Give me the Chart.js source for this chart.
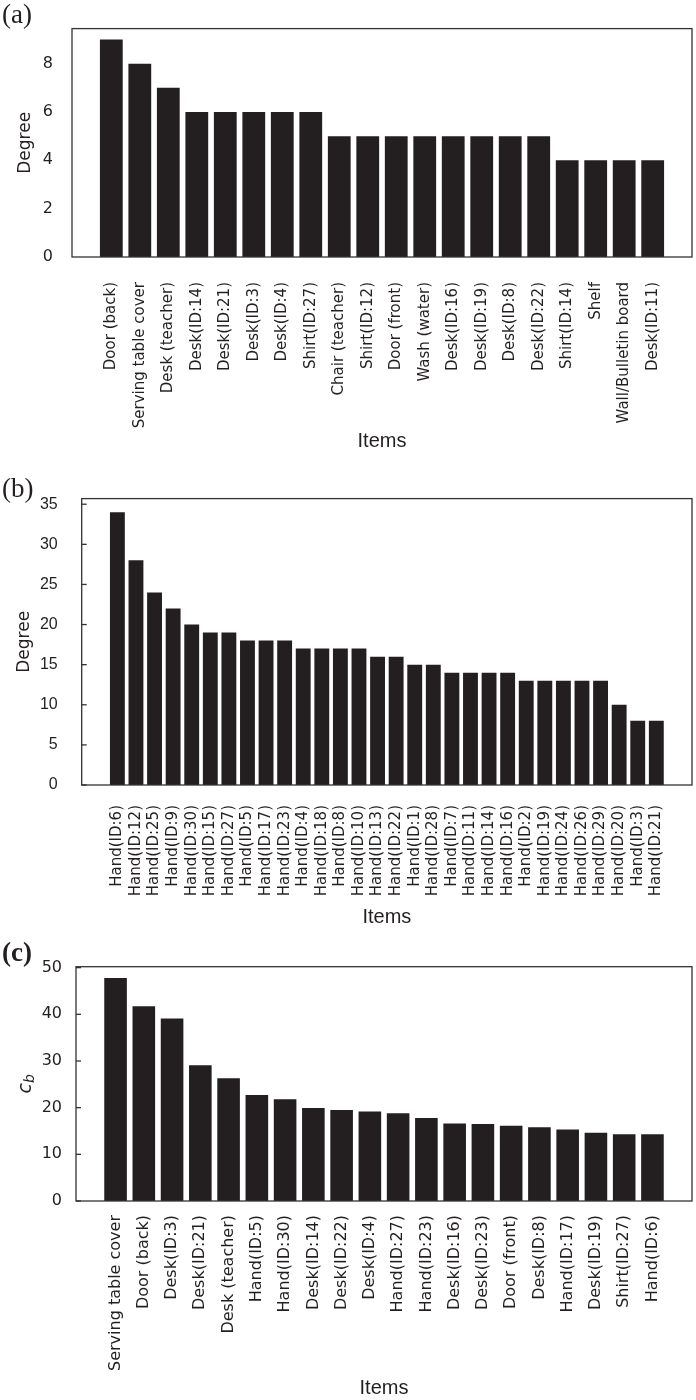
<!DOCTYPE html>
<html lang="en">
<head>
<meta charset="UTF-8">
<title>Item degree and betweenness</title>
<script src="https://cdn.jsdelivr.net/npm/chart.js"></script>
<style>
  body { margin: 0; background: #fff; }
  .page { position: relative; width: 696px; height: 1400px; }
  .panel { position: absolute; left: 0; width: 696px; }
  .panel canvas { display: block; }
  .tag { position: absolute; left: 2px; font-family: 'Liberation Serif', 'Times New Roman', serif; font-size: 27px; line-height: 1; color: #231f20; }
</style>
</head>
<body>
<div class="page">
  <div class="panel" style="top:0"><canvas id="chartA" width="696" height="465"></canvas></div>
  <div class="panel" style="top:465px"><canvas id="chartB" width="696" height="470"></canvas></div>
  <div class="panel" style="top:935px"><canvas id="chartC" width="696" height="465"></canvas></div>
  <div class="tag" style="top:1px">(a)</div>
  <div class="tag" style="top:475px">(b)</div>
  <div class="tag" style="top:939px;font-weight:bold">(c)</div>
</div>

<script>
// (a) degree of objects
const itemsA = ['Door (back)', 'Serving table cover', 'Desk (teacher)', 'Desk(ID:14)', 'Desk(ID:21)',
  'Desk(ID:3)', 'Desk(ID:4)', 'Shirt(ID:27)', 'Chair (teacher)', 'Shirt(ID:12)', 'Door (front)',
  'Wash (water)', 'Desk(ID:16)', 'Desk(ID:19)', 'Desk(ID:8)', 'Desk(ID:22)', 'Shirt(ID:14)',
  'Shelf', 'Wall/Bulletin board', 'Desk(ID:11)'];
const degreeA = [9, 8, 7, 6, 6, 6, 6, 6, 5, 5, 5, 5, 5, 5, 5, 5, 4, 4, 4, 4];
const yTicksA = [0, 2, 4, 6, 8];

// (b) degree of hands
const itemsB = ['Hand(ID:6)', 'Hand(ID:12)', 'Hand(ID:25)', 'Hand(ID:9)', 'Hand(ID:30)', 'Hand(ID:15)',
  'Hand(ID:27)', 'Hand(ID:5)', 'Hand(ID:17)', 'Hand(ID:23)', 'Hand(ID:4)', 'Hand(ID:18)', 'Hand(ID:8)',
  'Hand(ID:10)', 'Hand(ID:13)', 'Hand(ID:22)', 'Hand(ID:1)', 'Hand(ID:28)', 'Hand(ID:7)', 'Hand(ID:11)',
  'Hand(ID:14)', 'Hand(ID:16)', 'Hand(ID:2)', 'Hand(ID:19)', 'Hand(ID:24)', 'Hand(ID:26)', 'Hand(ID:29)',
  'Hand(ID:20)', 'Hand(ID:3)', 'Hand(ID:21)'];
const degreeB = [34, 28, 24, 22, 20, 19, 19, 18, 18, 18, 17, 17, 17, 17, 16, 16, 15, 15, 14, 14,
  14, 14, 13, 13, 13, 13, 13, 10, 8, 8];
const yTicksB = [0, 5, 10, 15, 20, 25, 30, 35];

// (c) betweenness centrality
const itemsC = ['Serving table cover', 'Door (back)', 'Desk(ID:3)', 'Desk(ID:21)', 'Desk (teacher)',
  'Hand(ID:5)', 'Hand(ID:30)', 'Desk(ID:14)', 'Desk(ID:22)', 'Desk(ID:4)', 'Hand(ID:27)', 'Hand(ID:23)',
  'Desk(ID:16)', 'Desk(ID:23)', 'Door (front)', 'Desk(ID:8)', 'Hand(ID:17)', 'Desk(ID:19)',
  'Shirt(ID:27)', 'Hand(ID:6)'];
const cbC = [47.8, 41.7, 39.1, 29.1, 26.3, 22.7, 21.8, 19.9, 19.5, 19.2, 18.8, 17.8, 16.6, 16.5,
  16.1, 15.8, 15.3, 14.6, 14.3, 14.3];
const yTicksC = [0, 10, 20, 30, 40, 50];

const INK = '#231f20';

// box around the plot, small inner ticks and the c_b axis title
const framePlugin = {
  id: 'frame',
  afterDatasetsDraw(chart, args, opts) {
    const { ctx, chartArea: a, scales } = chart;
    ctx.save();
    ctx.strokeStyle = '#333';
    ctx.lineWidth = 1.3;
    ctx.strokeRect(a.left, a.top, a.right - a.left, a.bottom - a.top);
    if (opts.innerTicks) {
      scales.y.ticks.forEach(t => {
        const y = scales.y.getPixelForValue(t.value);
        ctx.beginPath();
        ctx.moveTo(a.left, y);
        ctx.lineTo(a.left + 5, y);
        ctx.stroke();
      });
    }
    if (opts.cbTitle) {
      ctx.translate(26, (a.top + a.bottom) / 2);
      ctx.rotate(-Math.PI / 2);
      ctx.fillStyle = INK;
      ctx.textBaseline = 'middle';
      ctx.font = 'italic 19px "DejaVu Sans"';
      const wc = ctx.measureText('c').width;
      ctx.font = 'italic 14px "DejaVu Sans"';
      const wb = ctx.measureText('b').width;
      const x0 = -(wc + wb) / 2;
      ctx.font = 'italic 19px "DejaVu Sans"';
      ctx.fillText('c', x0, 0);
      ctx.font = 'italic 14px "DejaVu Sans"';
      ctx.fillText('b', x0 + wc, 4);
    }
    ctx.restore();
  }
};

function buildChart(id, labels, values, yTicks, o) {
  return new Chart(document.getElementById(id), {
    type: 'bar',
    data: {
      datasets: [{
        data: values.map((v, i) => ({ x: i, y: v })),
        backgroundColor: INK,
        borderWidth: 0,
        barPercentage: 1,
        categoryPercentage: 0.8
      }]
    },
    options: {
      responsive: false,
      animation: false,
      layout: { padding: { top: o.top, right: 4, left: 0, bottom: 0 } },
      plugins: {
        legend: { display: false },
        tooltip: { enabled: false },
        frame: { innerTicks: o.innerTicks, cbTitle: o.cbTitle }
      },
      scales: {
        x: {
          type: 'linear',
          offset: false,
          min: -o.pad,
          max: labels.length - 1 + o.pad,
          grid: { display: false, drawTicks: false },
          border: { display: false },
          afterBuildTicks: s => { s.ticks = labels.map((_, i) => ({ value: i })); },
          afterFit: s => { s.height = o.xHeight; },
          ticks: {
            autoSkip: false,
            minRotation: 90,
            maxRotation: 90,
            padding: o.xPad,
            color: INK,
            font: o.xFont,
            callback: v => labels[v]
          },
          title: {
            display: true,
            text: 'Items',
            color: INK,
            font: { family: 'Liberation Sans', size: 20 },
            padding: { top: 0, bottom: o.xTitlePad }
          }
        },
        y: {
          min: 0,
          max: o.yMax,
          grid: { display: false, drawTicks: false },
          border: { display: false },
          afterBuildTicks: s => { s.ticks = yTicks.map(v => ({ value: v })); },
          afterFit: s => { s.width = o.left; },
          ticks: { padding: o.yPad, color: INK, font: o.yFont },
          title: {
            display: !o.cbTitle,
            text: 'Degree',
            color: INK,
            font: { family: 'DejaVu Sans', size: 17 },
            padding: { top: o.yTitlePad, bottom: 0 }
          }
        }
      }
    },
    plugins: [framePlugin]
  });
}

buildChart('chartA', itemsA, degreeA, yTicksA, {
  top: 14, left: 72, xHeight: 208, pad: 1.38, yMax: 9.45,
  xPad: 25, yPad: 19, xTitlePad: 12, yTitlePad: 15,
  xFont: { family: 'DejaVu Sans', size: 15 },
  yFont: { family: 'DejaVu Sans', size: 16 },
  innerTicks: false, cbTitle: false
});

buildChart('chartB', itemsB, degreeB, yTicksB, {
  top: 23.3, left: 81.7, xHeight: 150, pad: 1.92, yMax: 35.7,
  xPad: 20, yPad: 24, xTitlePad: 6, yTitlePad: 14,
  xFont: { family: 'DejaVu Sans', size: 15 },
  yFont: { family: 'Liberation Sans', size: 16 },
  innerTicks: true, cbTitle: false
});

buildChart('chartC', itemsC, cbC, yTicksC, {
  top: 31.7, left: 76, xHeight: 199, pad: 1.4, yMax: 50.2,
  xPad: 14, yPad: 14, xTitlePad: 0, yTitlePad: 0,
  xFont: { family: 'DejaVu Sans', size: 16 },
  yFont: { family: 'DejaVu Sans', size: 16 },
  innerTicks: true, cbTitle: true
});
</script>
</body>
</html>
